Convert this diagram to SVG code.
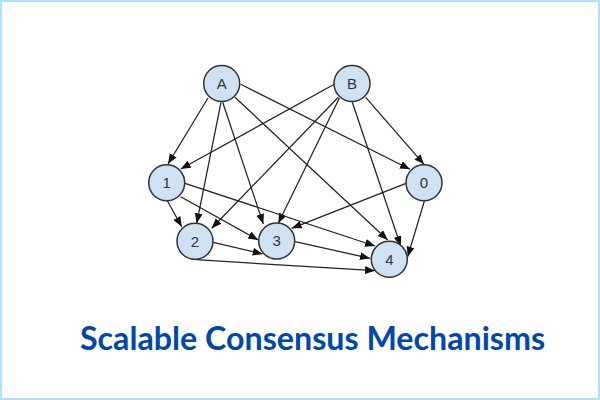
<svg xmlns="http://www.w3.org/2000/svg" width="600" height="400" viewBox="0 0 600 400">
<style>
.e{fill:none;stroke:#222;stroke-width:1.25;marker-end:url(#a)}
.n{fill:#cfe2f3;stroke:#333;stroke-width:1.5}
.l{font-family:"Liberation Sans",Arial,sans-serif;font-size:15px;fill:#333;text-anchor:middle}
.t{font-family:Lato,"Noto Sans",sans-serif;font-size:32.2px;font-weight:700;fill:#0047ab}
</style>
<defs><marker id="a" markerUnits="userSpaceOnUse" markerWidth="12" markerHeight="9" refX="10" refY="4" orient="auto"><path d="M0 0L10 4L0 8z" fill="#111"/></marker></defs>
<rect width="600" height="400" fill="#fff"/>
<rect x="1" y="1" width="598" height="398" fill="none" stroke="#b3dff8" stroke-width="2"/>
<g id="connectors">
<line class="e" x1="208" y1="98" x2="168" y2="164"/>
<line class="e" x1="334.3" y1="84.3" x2="180.7" y2="169"/>
<line class="e" x1="221" y1="102.3" x2="196.7" y2="223.3"/>
<line class="e" x1="222.7" y1="102.3" x2="263.3" y2="224"/>
<line class="e" x1="235" y1="97.3" x2="387.7" y2="240"/>
<line class="e" x1="240.7" y1="84.3" x2="410" y2="169.3"/>
<line class="e" x1="338.3" y1="97.3" x2="211.7" y2="228.3"/>
<line class="e" x1="339.3" y1="98.3" x2="278.3" y2="223.3"/>
<line class="e" x1="352.3" y1="102.3" x2="400.7" y2="246"/>
<line class="e" x1="365.7" y1="97.3" x2="424" y2="164.3"/>
<line class="e" x1="167.3" y1="200.7" x2="181.7" y2="226.7"/>
<line class="e" x1="180.7" y1="196.7" x2="258.3" y2="240"/>
<line class="e" x1="185" y1="183.3" x2="375" y2="246"/>
<line class="e" x1="406" y1="183.3" x2="291.7" y2="228.3"/>
<line class="e" x1="424.3" y1="201.3" x2="407.7" y2="256.7"/>
<line class="e" x1="213.3" y1="242.3" x2="262.7" y2="254"/>
<line class="e" x1="295" y1="241.7" x2="370" y2="258.3"/>
<line class="e" x1="196" y1="259.7" x2="375" y2="270.7"/>
</g>
<g id="node-A"><circle class="n" cx="221.7" cy="83.5" r="18"/><text class="l" x="221.7" y="88.8">A</text></g>
<g id="node-B"><circle class="n" cx="352" cy="83.5" r="18"/><text class="l" x="352" y="88.8">B</text></g>
<g id="node-1"><circle class="n" cx="166.7" cy="182.7" r="18"/><text class="l" x="166.7" y="188">1</text></g>
<g id="node-0"><circle class="n" cx="424" cy="182.7" r="18"/><text class="l" x="424" y="188">0</text></g>
<g id="node-2"><circle class="n" cx="195" cy="241.3" r="18"/><text class="l" x="195" y="246.6">2</text></g>
<g id="node-3"><circle class="n" cx="276.7" cy="241" r="18"/><text class="l" x="276.7" y="246.3">3</text></g>
<g id="node-4"><circle class="n" cx="389.3" cy="259.3" r="18"/><text class="l" x="389.3" y="264.6">4</text></g>
<text class="t" x="80" y="350">Scalable Consensus Mechanisms</text>
</svg>
